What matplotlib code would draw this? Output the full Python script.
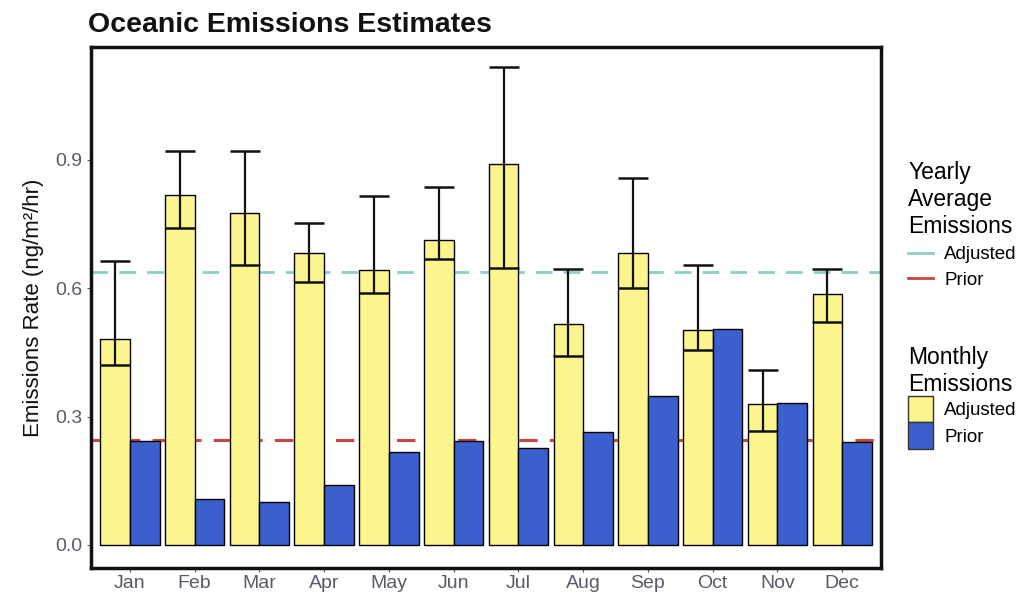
import numpy as np
import matplotlib
matplotlib.use('Agg')
import matplotlib.pyplot as plt
from matplotlib.lines import Line2D
from matplotlib.patches import Patch

plt.rcParams['font.family'] = ['Liberation Sans', 'DejaVu Sans']

# Данные
months = ['Jan', 'Feb', 'Mar', 'Apr', 'May', 'Jun',
          'Jul', 'Aug', 'Sep', 'Oct', 'Nov', 'Dec']
adjusted = [0.481, 0.818, 0.776, 0.682, 0.643, 0.713,
            0.890, 0.516, 0.682, 0.502, 0.329, 0.586]
adj_low = [0.421, 0.741, 0.654, 0.614, 0.589, 0.668,
           0.647, 0.442, 0.600, 0.456, 0.266, 0.521]
adj_high = [0.664, 0.921, 0.921, 0.752, 0.815, 0.836,
            1.117, 0.645, 0.857, 0.654, 0.409, 0.645]
prior = [0.243, 0.107, 0.100, 0.140, 0.217, 0.243,
         0.227, 0.264, 0.348, 0.505, 0.332, 0.241]
yearly_adjusted = 0.638
yearly_prior = 0.245

yellow = '#fcf48c'
blue = '#3b5fcc'
teal = '#8ccfc8'
red = '#c9443c'

fig = plt.figure(figsize=(10.24, 5.96), dpi=100)
ax = fig.add_axes([0.0889, 0.047, 0.7715, 0.874])

x = np.arange(1, 13)
w = 0.458

# Средние линии (за столбцами)
ax.axhline(yearly_adjusted, color=teal, lw=2, ls=(0, (6, 4)), zorder=1)
ax.axhline(yearly_prior, color=red, lw=2.2, ls=(0, (6, 4)), zorder=1)

ax.bar(x - w / 2, adjusted, width=w, color=yellow, edgecolor='black', lw=1, zorder=2)
ax.bar(x + w / 2, prior, width=w, color=blue, edgecolor='black', lw=1, zorder=2)

# Погрешности
adjusted = np.array(adjusted)
yerr = [adjusted - np.array(adj_low), np.array(adj_high) - adjusted]
ax.errorbar(x - w / 2, adjusted, yerr=yerr, fmt='none', ecolor='#111111',
            elinewidth=1.6, capsize=10.5, capthick=1.8, zorder=3)

ax.set_xlim(0.4, 12.6)
ax.set_ylim(-0.054, 1.164)
ax.set_xticks(x)
ax.set_xticklabels(months)
ax.set_yticks([0.0, 0.3, 0.6, 0.9])
ax.set_yticklabels(['0.0', '0.3', '0.6', '0.9'])
ax.tick_params(axis='both', labelsize=14, colors='#5a5a66', length=3, width=0.8)
ax.tick_params(axis='x', pad=2)
ax.set_ylabel('Emissions Rate (ng/m²/hr)', fontsize=16, color='#111111', labelpad=8)
for s in ax.spines.values():
    s.set_linewidth(2.5)
    s.set_color('#111111')

fig.text(0.086, 0.958, 'Oceanic Emissions Estimates', fontsize=20.5, fontweight='bold',
         color='#111111', ha='left', va='center')

# Легенды
h1 = [Line2D([], [], color=teal, lw=2), Line2D([], [], color=red, lw=2)]
leg1 = fig.legend(h1, ['Adjusted', 'Prior'], title='Yearly\nAverage\nEmissions',
                  loc='upper left', bbox_to_anchor=(0.878, 0.745), frameon=False,
                  fontsize=13.5, title_fontsize=16.5, handlelength=1.3,
                  borderpad=0, labelspacing=0.45, handletextpad=0.6, alignment='left')
h2 = [Patch(facecolor=yellow, edgecolor='#333333'), Patch(facecolor=blue, edgecolor='#333333')]
leg2 = fig.legend(h2, ['Adjusted', 'Prior'], title='Monthly\nEmissions',
                  loc='upper left', bbox_to_anchor=(0.878, 0.435), frameon=False,
                  fontsize=13.5, title_fontsize=16.5, handlelength=1.3, handleheight=1.8,
                  borderpad=0, labelspacing=0.0, handletextpad=0.6, alignment='left')

fig.savefig('out.png', dpi=100)
